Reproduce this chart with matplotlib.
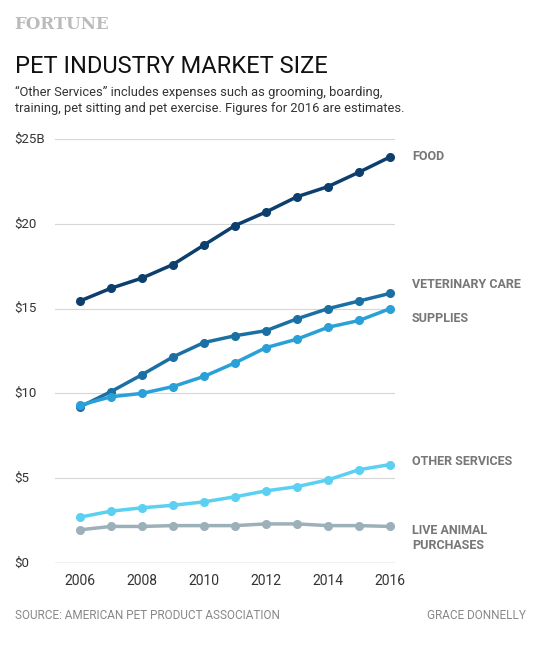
import matplotlib
matplotlib.use("Agg")
import matplotlib.pyplot as plt
from matplotlib.transforms import blended_transform_factory

plt.rcParams["font.family"] = ["Roboto", "DejaVu Sans"]

years = list(range(2006, 2017))
food = [15.45, 16.2, 16.8, 17.6, 18.75, 19.9, 20.7, 21.6, 22.2, 23.05, 23.95]
vet = [9.2, 10.1, 11.1, 12.15, 13.0, 13.4, 13.7, 14.4, 15.0, 15.45, 15.9]
supplies = [9.3, 9.8, 10.0, 10.4, 11.0, 11.8, 12.7, 13.2, 13.9, 14.3, 15.0]
other = [2.7, 3.05, 3.25, 3.4, 3.6, 3.9, 4.25, 4.5, 4.9, 5.5, 5.8]
live = [1.95, 2.15, 2.15, 2.2, 2.2, 2.2, 2.3, 2.3, 2.2, 2.2, 2.15]

series = [
    ("FOOD", food, "#0d3f6e", 0),
    ("VETERINARY CARE", vet, "#1a70a3", 0.5),
    ("SUPPLIES", supplies, "#2aa0d8", -0.6),
    ("OTHER SERVICES", other, "#5bd0f2", 0.2),
    ("LIVE ANIMAL\nPURCHASES", live, "#9cb0b9", -0.7),
]
y_ticks = [0, 5, 10, 15, 20, 25]
y_labels = ["$0", "$5", "$10", "$15", "$20", "$25B"]
x_ticks = [2006, 2008, 2010, 2012, 2014, 2016]

fig = plt.figure(figsize=(5.45, 6.5), dpi=100)
ax = fig.add_axes([0.101, 0.134, 0.624, 0.652])
ax.set_xlim(2005.2, 2016.16)
ax.set_ylim(0, 25)

for name, vals, color, off in series:
    ax.plot(years, vals, color=color, linewidth=2.5, marker="o", markersize=5.5, zorder=3, clip_on=False)
    ax.text(2016.7, vals[-1] + off, name, color="#777777", fontsize=9, fontweight="bold",
            va="center", ha="left", linespacing=1.2)

ylab_tr = blended_transform_factory(fig.transFigure, ax.transData)
for t, lab in zip(y_ticks, y_labels):
    ax.axhline(t, color="#d6d6d6", linewidth=0.8, zorder=1)
    ax.text(0.027, t, lab, transform=ylab_tr, ha="left", va="center",
            fontsize=9.5, color="#333333")
ax.axhline(0, color="#333333", linewidth=0.8, zorder=2)

ax.set_xticks(x_ticks)
ax.tick_params(axis="x", length=0, labelsize=10, pad=8, colors="#333333")
ax.set_yticks([])
for s in ax.spines.values():
    s.set_visible(False)

fig.text(0.027, 0.955, "FORTUNE", fontsize=12, family="DejaVu Serif", color="#bbbbbb", fontweight="bold")
fig.text(0.027, 0.888, "PET INDUSTRY MARKET SIZE", fontsize=17, color="#111111", stretch="condensed")
fig.text(0.027, 0.827, "\u201cOther Services\u201d includes expenses such as grooming, boarding,\n"
         "training, pet sitting and pet exercise. Figures for 2016 are estimates.",
         fontsize=9.3, color="#333333", linespacing=1.3)
fig.text(0.027, 0.048, "SOURCE: AMERICAN PET PRODUCT ASSOCIATION", fontsize=8.5, color="#888888")
fig.text(0.965, 0.048, "GRACE DONNELLY", fontsize=8.5, color="#888888", ha="right")

fig.savefig("out.png", dpi=100)
